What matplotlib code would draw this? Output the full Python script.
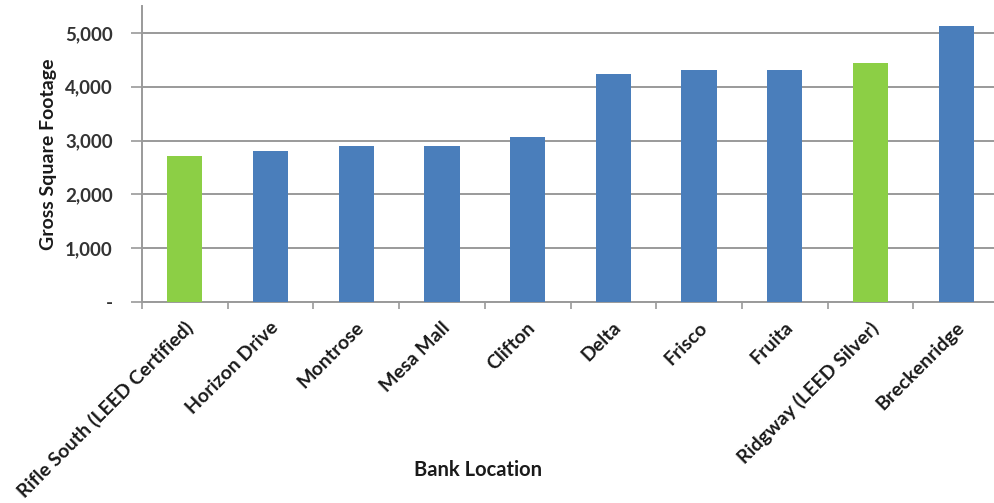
import matplotlib.pyplot as plt
import matplotlib.transforms as mtransforms
import numpy as np

# Bank locations and gross square footage
locations = ['Rifle South (LEED Certified)', 'Horizon Drive', 'Montrose', 'Mesa Mall',
             'Clifton', 'Delta', 'Frisco', 'Fruita', 'Ridgway (LEED Silver)', 'Breckenridge']
sqft = [2720, 2800, 2890, 2900, 3060, 4240, 4310, 4310, 4440, 5120]
leed = [True, False, False, False, False, False, False, False, True, False]
yticks = [0, 1000, 2000, 3000, 4000, 5000]
ytick_labels = ['-', '1,000', '2,000', '3,000', '4,000', '5,000']

blue = '#4a7ebb'
green = '#8ccf45'
grey = '#9a9a9a'
txt = '#333333'

plt.rcParams['font.family'] = ['Lato', 'DejaVu Sans']

fig = plt.figure(figsize=(9.95, 5.03), dpi=100)
ax = fig.add_axes([142/995, 201/503, 857/995, 296/503])

x = np.arange(len(locations))
cols = [green if g else blue for g in leed]
ax.bar(x, sqft, width=0.41, color=cols, zorder=3)

ax.set_xlim(-0.5, len(locations) - 0.5)
ax.set_ylim(0, 5500)
ax.set_yticks(yticks)
ax.set_yticklabels(ytick_labels, fontsize=13.5, fontweight='bold', color=txt)
ax.yaxis.grid(True, color=grey, linewidth=1.4, zorder=0)

ax.set_xticks(x)
ax.set_xticklabels(locations, rotation=45, ha='right', va='top', rotation_mode='anchor',
                   fontsize=14, fontweight='bold', color='#1a1a1a')
ax.set_xticks(np.arange(len(locations) + 1) - 0.5, minor=True)
ax.tick_params(axis='x', which='major', length=0, pad=12)
ax.tick_params(axis='x', which='minor', length=5, width=1.2, color=grey)
ax.tick_params(axis='y', length=8, width=1.2, color=grey, pad=13)
offset = mtransforms.ScaledTranslation(-1/100, 0, fig.dpi_scale_trans)
for lab in ax.get_xticklabels():
    lab.set_transform(lab.get_transform() + offset)

for s in ['top', 'right']:
    ax.spines[s].set_visible(False)
for s in ['left', 'bottom']:
    ax.spines[s].set_color(grey)
    ax.spines[s].set_linewidth(1.4)

ax.set_ylabel('Gross Square Footage', fontsize=14, fontweight='bold', color='#1a1a1a', labelpad=6)
fig.text(478/995, 1 - 470/503, 'Bank Location', fontsize=14.5, fontweight='bold',
         color='#1a1a1a', ha='center', va='center')

fig.savefig('out.png', dpi=100, facecolor='white')
